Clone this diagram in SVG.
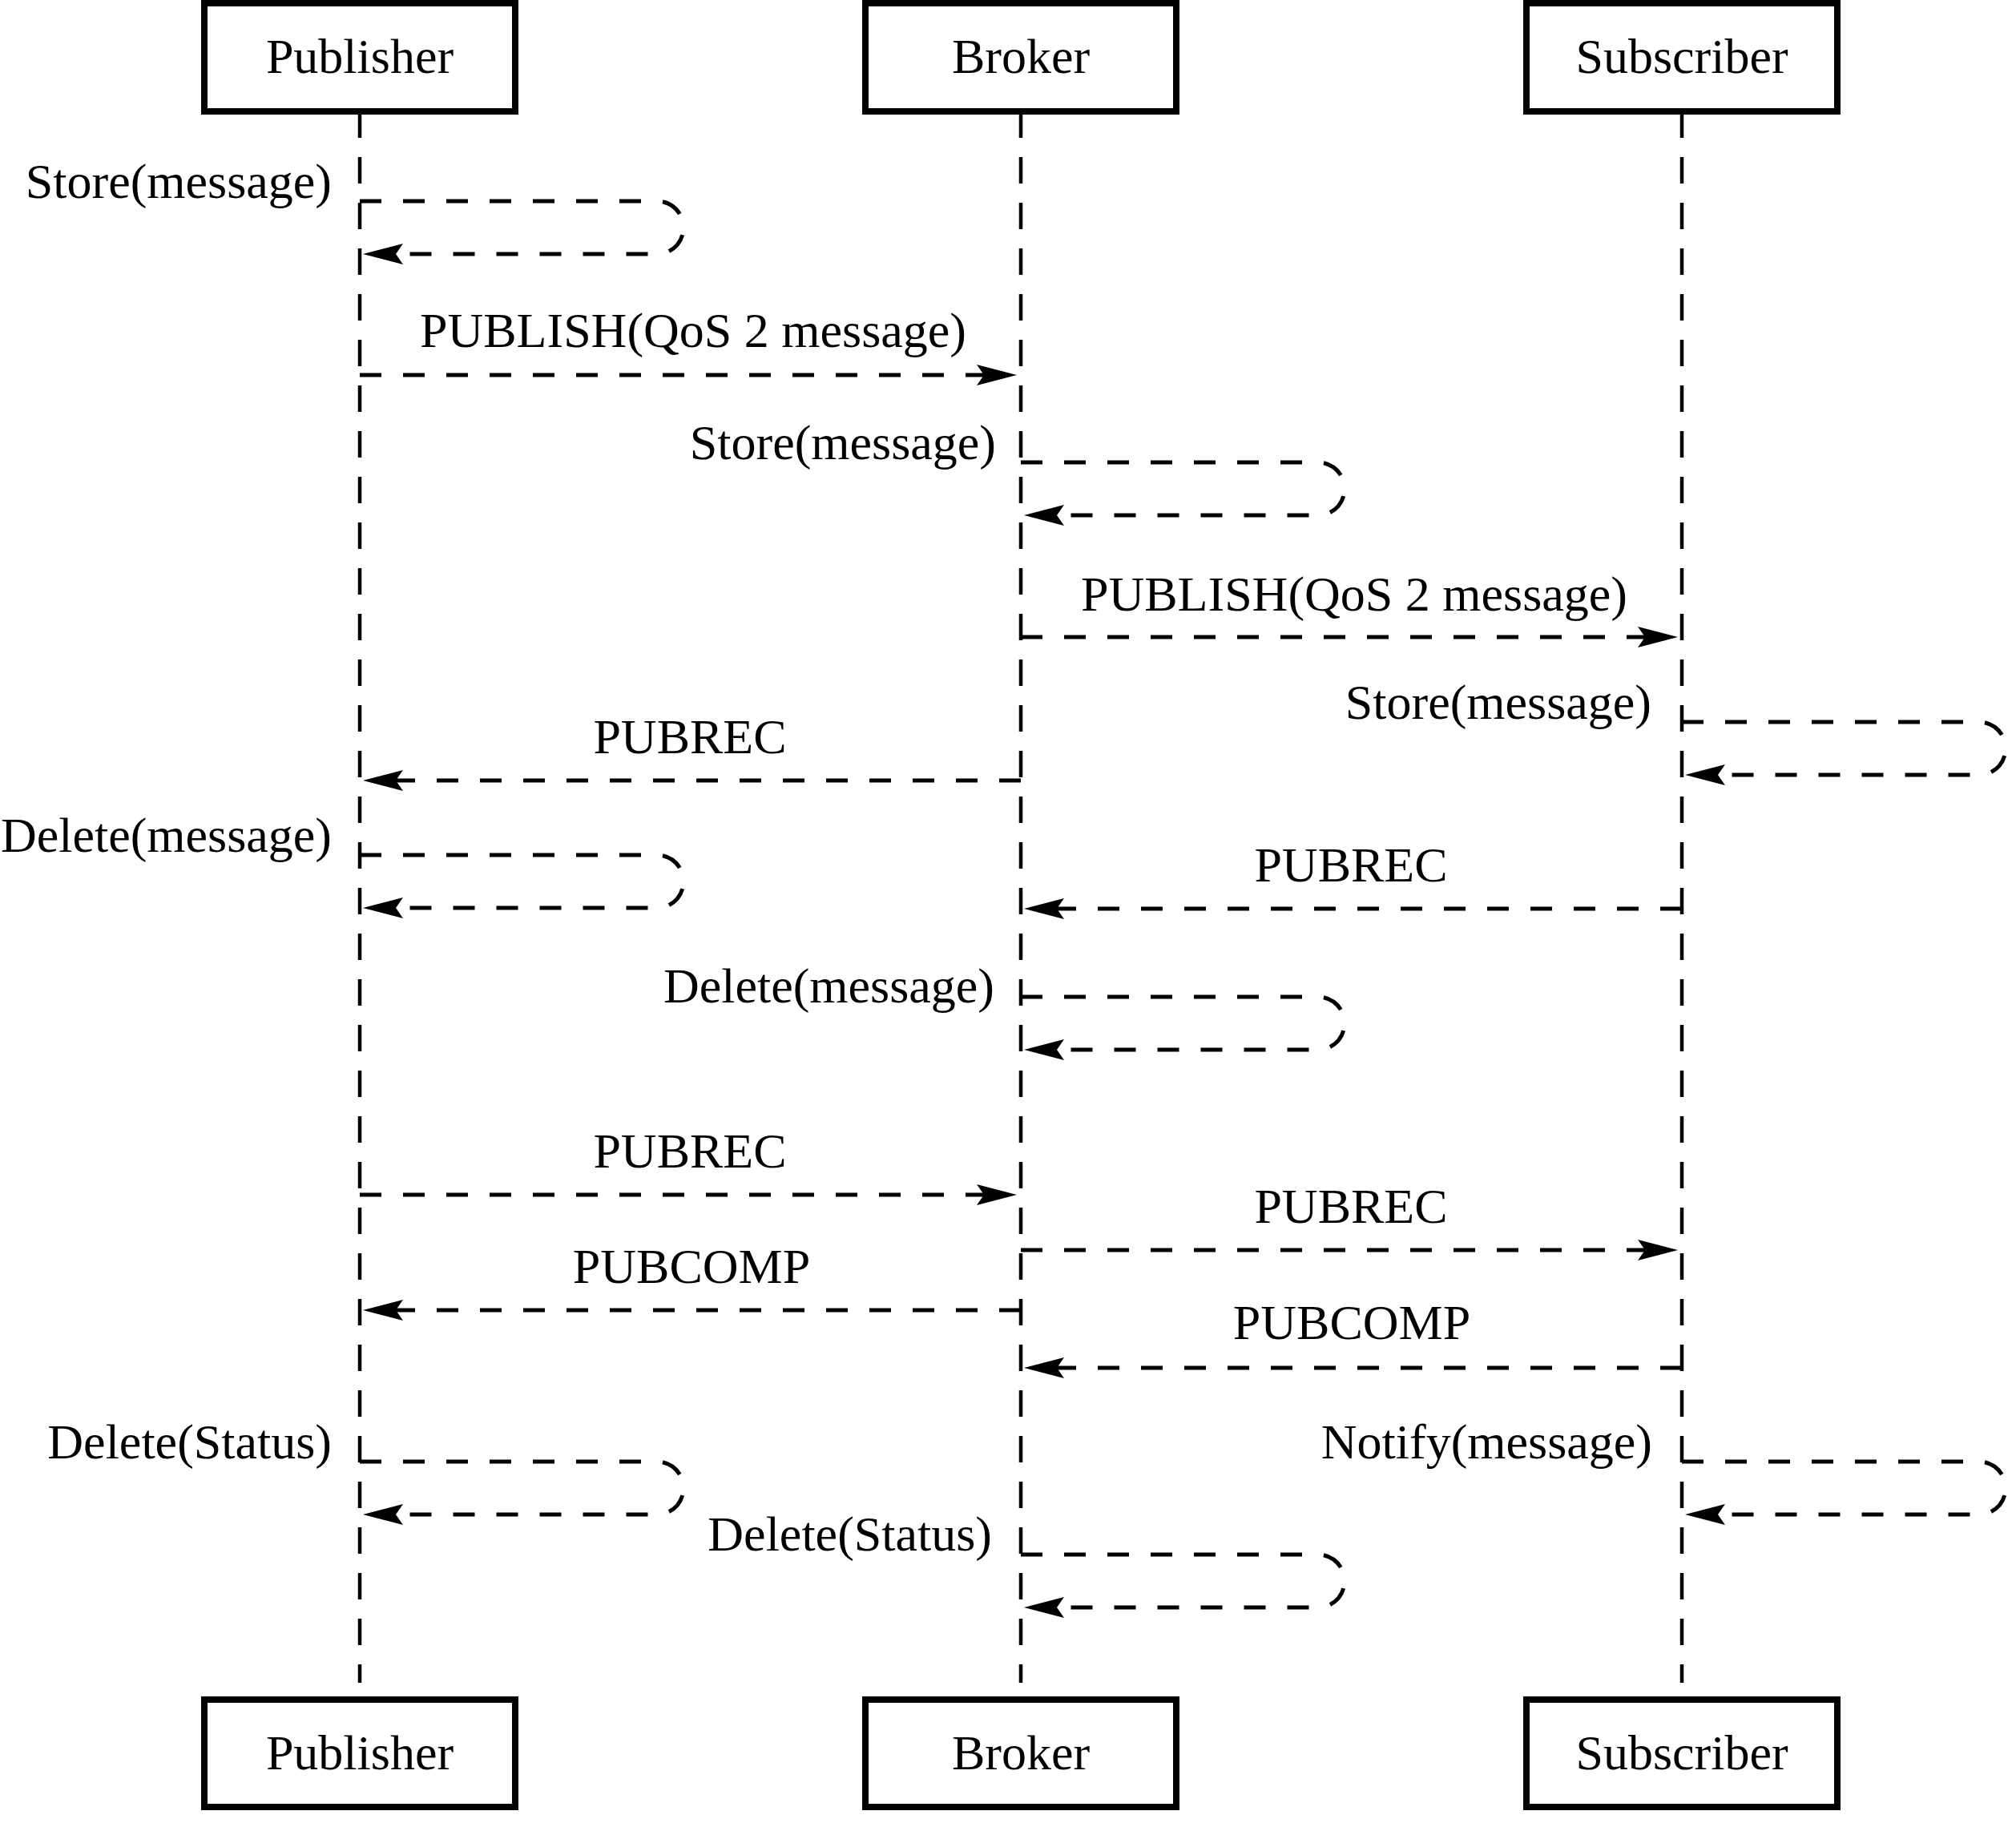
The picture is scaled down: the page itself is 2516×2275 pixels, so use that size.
<svg xmlns="http://www.w3.org/2000/svg" width="2516" height="2275" viewBox="0 0 2516 2275">
<style>
  .box { fill: #ffffff; stroke: #000000; stroke-width: 8; }
  .life { stroke: #000000; stroke-width: 4.5; stroke-dasharray: 33 24; stroke-dashoffset: 4; fill: none; }
  .msg { stroke: #000000; stroke-width: 5; stroke-dasharray: 27 27; fill: none; marker-end: url(#arrow); }
  text { font-family: "Liberation Serif", "Times New Roman", serif; font-size: 62px; fill: #000000; }
  .c { text-anchor: middle; }
  .r { text-anchor: end; }
</style>
<defs>
  <marker id="arrow" markerUnits="userSpaceOnUse" markerWidth="52" markerHeight="28" viewBox="0 0 52 28" refX="10" refY="14" orient="auto">
    <path d="M1,1 L51,14 L1,27 L10,14 Z" fill="#000000"/>
  </marker>
</defs>
<rect width="2516" height="2275" fill="#ffffff"/>
<g id="lifelines">
  <line class="life" x1="449" y1="143" x2="449" y2="2100"/>
  <line class="life" x1="1274" y1="143" x2="1274" y2="2100"/>
  <line class="life" x1="2099" y1="143" x2="2099" y2="2100"/>
</g>
<g id="publisher-top"><rect class="box" x="255" y="4" width="388" height="135"/><text class="c" x="449" y="91">Publisher</text></g>
<g id="broker-top"><rect class="box" x="1080" y="4" width="388" height="135"/><text class="c" x="1274" y="91">Broker</text></g>
<g id="subscriber-top"><rect class="box" x="1905" y="4" width="388" height="135"/><text class="c" x="2099" y="91">Subscriber</text></g>
<g id="publisher-bottom"><rect class="box" x="255" y="2121" width="388" height="134"/><text class="c" x="449" y="2208">Publisher</text></g>
<g id="broker-bottom"><rect class="box" x="1080" y="2121" width="388" height="134"/><text class="c" x="1274" y="2208">Broker</text></g>
<g id="subscriber-bottom"><rect class="box" x="1905" y="2121" width="388" height="134"/><text class="c" x="2099" y="2208">Subscriber</text></g>
<g id="connectors">
  <path class="msg" d="M449,251 H820 A33,33 0 0 1 820,317 H494"/>
  <path class="msg" d="M449,468 H1228"/>
  <path class="msg" d="M1274,577 H1645 A33,33 0 0 1 1645,643 H1319"/>
  <path class="msg" d="M1274,795 H2053"/>
  <path class="msg" d="M2099,901 H2470 A33,33 0 0 1 2470,967 H2144"/>
  <path class="msg" d="M1274,974 H494"/>
  <path class="msg" d="M449,1067 H820 A33,33 0 0 1 820,1133 H494"/>
  <path class="msg" d="M2099,1134 H1319"/>
  <path class="msg" d="M1274,1244 H1645 A33,33 0 0 1 1645,1310 H1319"/>
  <path class="msg" d="M449,1491 H1228"/>
  <path class="msg" d="M1274,1560 H2053"/>
  <path class="msg" d="M1274,1635 H494"/>
  <path class="msg" d="M2099,1707 H1319"/>
  <path class="msg" d="M449,1824 H820 A33,33 0 0 1 820,1890 H494"/>
  <path class="msg" d="M2099,1824 H2470 A33,33 0 0 1 2470,1890 H2144"/>
  <path class="msg" d="M1274,1940 H1645 A33,33 0 0 1 1645,2006 H1319"/>
</g>
<g id="labels">
  <text class="r" x="414" y="247">Store(message)</text>
  <text class="c" x="865" y="433">PUBLISH(QoS 2 message)</text>
  <text class="r" x="1243" y="573">Store(message)</text>
  <text class="c" x="1690" y="762">PUBLISH(QoS 2 message)</text>
  <text class="r" x="2061" y="897">Store(message)</text>
  <text class="c" x="861" y="940">PUBREC</text>
  <text class="r" x="414" y="1063">Delete(message)</text>
  <text class="c" x="1686" y="1100">PUBREC</text>
  <text class="r" x="1241" y="1251">Delete(message)</text>
  <text class="c" x="861" y="1457">PUBREC</text>
  <text class="c" x="1686" y="1526">PUBREC</text>
  <text class="c" x="863" y="1601">PUBCOMP</text>
  <text class="c" x="1687" y="1671">PUBCOMP</text>
  <text class="r" x="414" y="1820">Delete(Status)</text>
  <text class="r" x="2062" y="1820">Notify(message)</text>
  <text class="r" x="1238" y="1935">Delete(Status)</text>
</g>
</svg>
